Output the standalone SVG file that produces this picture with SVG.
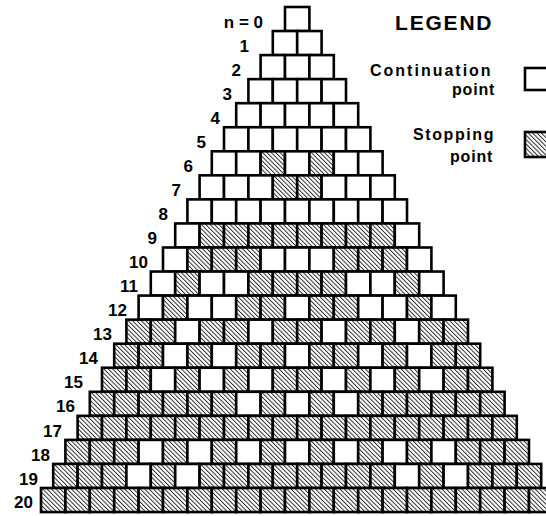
<svg xmlns="http://www.w3.org/2000/svg" xmlns:xlink="http://www.w3.org/1999/xlink" width="546" height="516" viewBox="0 0 546 516">
<style>
.lbl{font-family:"Liberation Sans",Arial,sans-serif;font-weight:bold;font-size:17px;fill:#000;text-anchor:end}
.leg{font-family:"Liberation Sans",Arial,sans-serif;font-weight:bold;font-size:16px;fill:#000}
.title{font-family:"Liberation Sans",Arial,sans-serif;font-weight:bold;font-size:21px;fill:#000;letter-spacing:1.8px}
</style>
<defs>
<pattern id="hatch" width="3.1" height="3.1" patternUnits="userSpaceOnUse" patternTransform="rotate(-45)">
<rect width="3.1" height="3.1" fill="#fff"/>
<line x1="0.5" y1="0" x2="0.5" y2="3.1" stroke="#000" stroke-width="0.8"/>
</pattern>
<rect id="w" width="24.4" height="24.05" fill="#fff" stroke="#000" stroke-width="2.6"/>
<rect id="h" width="24.4" height="24.05" fill="url(#hatch)" stroke="#000" stroke-width="2.6"/>
</defs>
<rect width="546" height="516" fill="#fff"/>
<g id="triangle">
<g id="row0" transform="translate(285,7)"><use href="#w" x="0"/></g>
<g id="row1" transform="translate(272.8,31.05)"><use href="#w" x="0"/><use href="#w" x="24.4"/></g>
<g id="row2" transform="translate(260.6,55.1)"><use href="#w" x="0"/><use href="#w" x="24.4"/><use href="#w" x="48.8"/></g>
<g id="row3" transform="translate(248.4,79.15)"><use href="#w" x="0"/><use href="#w" x="24.4"/><use href="#w" x="48.8"/><use href="#w" x="73.2"/></g>
<g id="row4" transform="translate(236.2,103.2)"><use href="#w" x="0"/><use href="#w" x="24.4"/><use href="#w" x="48.8"/><use href="#w" x="73.2"/><use href="#w" x="97.6"/></g>
<g id="row5" transform="translate(224,127.25)"><use href="#w" x="0"/><use href="#w" x="24.4"/><use href="#w" x="48.8"/><use href="#w" x="73.2"/><use href="#w" x="97.6"/><use href="#w" x="122"/></g>
<g id="row6" transform="translate(211.8,151.3)"><use href="#w" x="0"/><use href="#w" x="24.4"/><use href="#h" x="48.8"/><use href="#w" x="73.2"/><use href="#h" x="97.6"/><use href="#w" x="122"/><use href="#w" x="146.4"/></g>
<g id="row7" transform="translate(199.6,175.35)"><use href="#w" x="0"/><use href="#w" x="24.4"/><use href="#w" x="48.8"/><use href="#h" x="73.2"/><use href="#h" x="97.6"/><use href="#w" x="122"/><use href="#w" x="146.4"/><use href="#w" x="170.8"/></g>
<g id="row8" transform="translate(187.4,199.4)"><use href="#w" x="0"/><use href="#w" x="24.4"/><use href="#w" x="48.8"/><use href="#w" x="73.2"/><use href="#w" x="97.6"/><use href="#w" x="122"/><use href="#w" x="146.4"/><use href="#w" x="170.8"/><use href="#w" x="195.2"/></g>
<g id="row9" transform="translate(175.2,223.45)"><use href="#w" x="0"/><use href="#h" x="24.4"/><use href="#h" x="48.8"/><use href="#h" x="73.2"/><use href="#h" x="97.6"/><use href="#h" x="122"/><use href="#h" x="146.4"/><use href="#h" x="170.8"/><use href="#h" x="195.2"/><use href="#w" x="219.6"/></g>
<g id="row10" transform="translate(163,247.5)"><use href="#w" x="0"/><use href="#h" x="24.4"/><use href="#h" x="48.8"/><use href="#h" x="73.2"/><use href="#w" x="97.6"/><use href="#w" x="122"/><use href="#w" x="146.4"/><use href="#h" x="170.8"/><use href="#h" x="195.2"/><use href="#h" x="219.6"/><use href="#w" x="244"/></g>
<g id="row11" transform="translate(150.8,271.55)"><use href="#w" x="0"/><use href="#h" x="24.4"/><use href="#w" x="48.8"/><use href="#w" x="73.2"/><use href="#h" x="97.6"/><use href="#h" x="122"/><use href="#h" x="146.4"/><use href="#h" x="170.8"/><use href="#w" x="195.2"/><use href="#w" x="219.6"/><use href="#h" x="244"/><use href="#w" x="268.4"/></g>
<g id="row12" transform="translate(138.6,295.6)"><use href="#w" x="0"/><use href="#h" x="24.4"/><use href="#w" x="48.8"/><use href="#w" x="73.2"/><use href="#h" x="97.6"/><use href="#h" x="122"/><use href="#w" x="146.4"/><use href="#h" x="170.8"/><use href="#h" x="195.2"/><use href="#w" x="219.6"/><use href="#w" x="244"/><use href="#h" x="268.4"/><use href="#w" x="292.8"/></g>
<g id="row13" transform="translate(126.4,319.65)"><use href="#h" x="0"/><use href="#h" x="24.4"/><use href="#w" x="48.8"/><use href="#h" x="73.2"/><use href="#h" x="97.6"/><use href="#w" x="122"/><use href="#h" x="146.4"/><use href="#h" x="170.8"/><use href="#w" x="195.2"/><use href="#h" x="219.6"/><use href="#h" x="244"/><use href="#w" x="268.4"/><use href="#h" x="292.8"/><use href="#h" x="317.2"/></g>
<g id="row14" transform="translate(114.2,343.7)"><use href="#h" x="0"/><use href="#h" x="24.4"/><use href="#w" x="48.8"/><use href="#h" x="73.2"/><use href="#w" x="97.6"/><use href="#h" x="122"/><use href="#h" x="146.4"/><use href="#w" x="170.8"/><use href="#h" x="195.2"/><use href="#h" x="219.6"/><use href="#w" x="244"/><use href="#h" x="268.4"/><use href="#w" x="292.8"/><use href="#h" x="317.2"/><use href="#h" x="341.6"/></g>
<g id="row15" transform="translate(102,367.75)"><use href="#h" x="0"/><use href="#h" x="24.4"/><use href="#w" x="48.8"/><use href="#h" x="73.2"/><use href="#w" x="97.6"/><use href="#h" x="122"/><use href="#w" x="146.4"/><use href="#h" x="170.8"/><use href="#h" x="195.2"/><use href="#w" x="219.6"/><use href="#h" x="244"/><use href="#w" x="268.4"/><use href="#h" x="292.8"/><use href="#w" x="317.2"/><use href="#h" x="341.6"/><use href="#h" x="366"/></g>
<g id="row16" transform="translate(89.8,391.8)"><use href="#h" x="0"/><use href="#h" x="24.4"/><use href="#h" x="48.8"/><use href="#h" x="73.2"/><use href="#h" x="97.6"/><use href="#h" x="122"/><use href="#w" x="146.4"/><use href="#h" x="170.8"/><use href="#w" x="195.2"/><use href="#h" x="219.6"/><use href="#w" x="244"/><use href="#h" x="268.4"/><use href="#h" x="292.8"/><use href="#h" x="317.2"/><use href="#h" x="341.6"/><use href="#h" x="366"/><use href="#h" x="390.4"/></g>
<g id="row17" transform="translate(77.6,415.85)"><use href="#h" x="0"/><use href="#h" x="24.4"/><use href="#h" x="48.8"/><use href="#h" x="73.2"/><use href="#h" x="97.6"/><use href="#h" x="122"/><use href="#h" x="146.4"/><use href="#h" x="170.8"/><use href="#h" x="195.2"/><use href="#h" x="219.6"/><use href="#h" x="244"/><use href="#h" x="268.4"/><use href="#h" x="292.8"/><use href="#h" x="317.2"/><use href="#h" x="341.6"/><use href="#h" x="366"/><use href="#h" x="390.4"/><use href="#h" x="414.8"/></g>
<g id="row18" transform="translate(65.4,439.9)"><use href="#h" x="0"/><use href="#h" x="24.4"/><use href="#h" x="48.8"/><use href="#w" x="73.2"/><use href="#h" x="97.6"/><use href="#w" x="122"/><use href="#h" x="146.4"/><use href="#w" x="170.8"/><use href="#h" x="195.2"/><use href="#w" x="219.6"/><use href="#h" x="244"/><use href="#w" x="268.4"/><use href="#h" x="292.8"/><use href="#w" x="317.2"/><use href="#h" x="341.6"/><use href="#w" x="366"/><use href="#h" x="390.4"/><use href="#h" x="414.8"/><use href="#h" x="439.2"/></g>
<g id="row19" transform="translate(53.2,463.95)"><use href="#h" x="0"/><use href="#h" x="24.4"/><use href="#h" x="48.8"/><use href="#w" x="73.2"/><use href="#h" x="97.6"/><use href="#w" x="122"/><use href="#h" x="146.4"/><use href="#h" x="170.8"/><use href="#h" x="195.2"/><use href="#h" x="219.6"/><use href="#h" x="244"/><use href="#h" x="268.4"/><use href="#h" x="292.8"/><use href="#h" x="317.2"/><use href="#w" x="341.6"/><use href="#h" x="366"/><use href="#w" x="390.4"/><use href="#h" x="414.8"/><use href="#h" x="439.2"/><use href="#h" x="463.6"/></g>
<g id="row20" transform="translate(41,488)"><use href="#h" x="0"/><use href="#h" x="24.4"/><use href="#h" x="48.8"/><use href="#h" x="73.2"/><use href="#h" x="97.6"/><use href="#h" x="122"/><use href="#h" x="146.4"/><use href="#h" x="170.8"/><use href="#h" x="195.2"/><use href="#h" x="219.6"/><use href="#h" x="244"/><use href="#h" x="268.4"/><use href="#h" x="292.8"/><use href="#h" x="317.2"/><use href="#h" x="341.6"/><use href="#h" x="366"/><use href="#h" x="390.4"/><use href="#h" x="414.8"/><use href="#h" x="439.2"/><use href="#h" x="463.6"/><use href="#h" x="488"/></g>
</g>
<g id="row-labels">
<text class="lbl" x="263" y="28">n = 0</text>
<text class="lbl" x="249" y="52">1</text>
<text class="lbl" x="241" y="76">2</text>
<text class="lbl" x="232" y="100">3</text>
<text class="lbl" x="220" y="124">4</text>
<text class="lbl" x="206" y="148">5</text>
<text class="lbl" x="193" y="172">6</text>
<text class="lbl" x="181" y="196">7</text>
<text class="lbl" x="168" y="220">8</text>
<text class="lbl" x="157" y="244">9</text>
<text class="lbl" x="148" y="268">10</text>
<text class="lbl" x="138" y="292">11</text>
<text class="lbl" x="127" y="316">12</text>
<text class="lbl" x="112" y="340">13</text>
<text class="lbl" x="98" y="364">14</text>
<text class="lbl" x="83" y="388">15</text>
<text class="lbl" x="75" y="412">16</text>
<text class="lbl" x="62" y="437">17</text>
<text class="lbl" x="50" y="461">18</text>
<text class="lbl" x="38" y="485">19</text>
<text class="lbl" x="33" y="508">20</text>
</g>
<g id="legend">
<text class="title" x="395" y="30">LEGEND</text>
<text class="leg" x="370" y="76" style="letter-spacing:2px">Continuation</text>
<text class="leg" x="452" y="94.5" style="letter-spacing:0.8px">point</text>
<rect x="525" y="68" width="30" height="22" fill="#fff" stroke="#000" stroke-width="2.6"/>
<text class="leg" x="413" y="140" style="letter-spacing:1.6px">Stopping</text>
<text class="leg" x="450" y="162" style="letter-spacing:0.8px">point</text>
<rect x="525" y="132" width="30" height="25" fill="url(#hatch)" stroke="#000" stroke-width="2.6"/>
</g>
</svg>
